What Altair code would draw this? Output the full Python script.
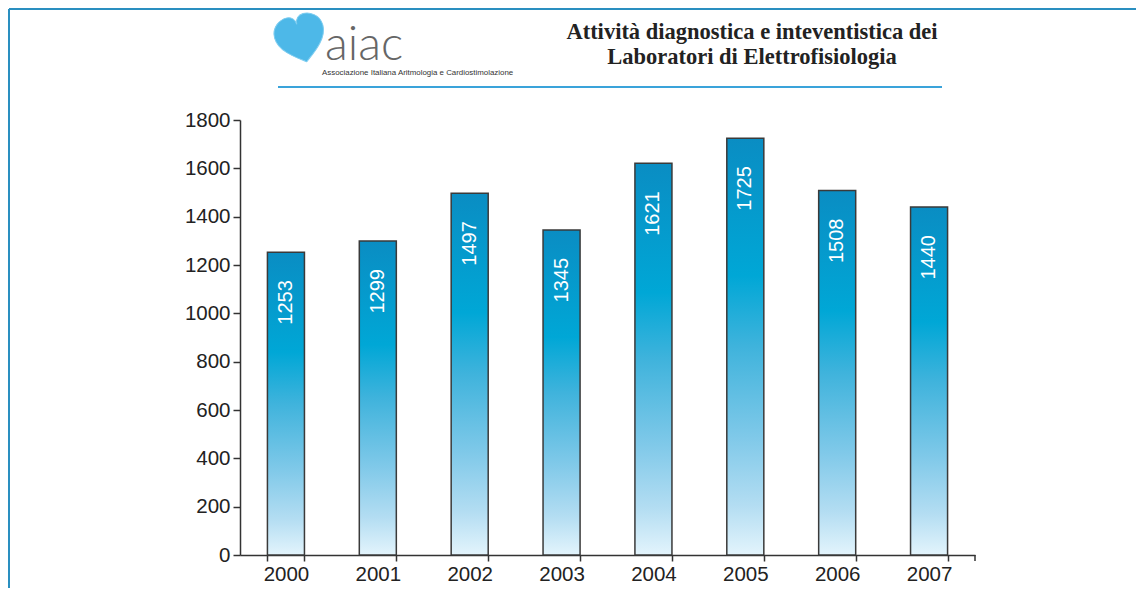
import altair as alt
import pandas as pd

years = ["2000", "2001", "2002", "2003", "2004", "2005", "2006", "2007"]
values = [1253, 1299, 1497, 1345, 1621, 1725, 1508, 1440]
title_lines = ["Attività diagnostica e inteventistica dei", "Laboratori di Elettrofisiologia"]
logo_word = "aiac"
logo_sub = "Associazione Italiana Aritmologia e Cardiostimolazione"
y_ticks = [0, 200, 400, 600, 800, 1000, 1200, 1400, 1600, 1800]

df = pd.DataFrame({"year": years, "value": values})

W, H = 735, 435
FONT = "Liberation Sans"

xscale = alt.Scale(domain=years, paddingInner=0.597, paddingOuter=0.2985)
yscale = alt.Scale(domain=[0, 1800], nice=False)

x_enc = alt.X("year:N", scale=xscale, title=None,
              axis=alt.Axis(labelAngle=0, labelFont=FONT, labelFontSize=20.5, labelColor="#222",
                            tickBand="extent", tickSize=6, tickColor="#333", tickWidth=1.5,
                            domainColor="#333", domainWidth=1.5, labelPadding=3))
y_enc = alt.Y("value:Q", scale=yscale, title=None,
              axis=alt.Axis(values=y_ticks, format="d", labelFont=FONT, labelFontSize=20.5,
                            labelColor="#222", tickSize=7, tickColor="#333", tickWidth=1.5,
                            domainColor="#333", domainWidth=1.5, grid=False, labelPadding=3))

grad = alt.Gradient(
    gradient="linear",
    stops=[
        alt.GradientStop(offset=0, color="#0a8dc3"),
        alt.GradientStop(offset=0.33, color="#00a7d6"),
        alt.GradientStop(offset=0.5, color="#3fb3dc"),
        alt.GradientStop(offset=0.72, color="#80c9e9"),
        alt.GradientStop(offset=0.88, color="#b3ddf2"),
        alt.GradientStop(offset=1, color="#e3f4fc"),
    ],
    x1=0, x2=0, y1=0, y2=1,
)

base = alt.Chart(df)

bars = base.mark_bar(fill=grad, stroke="#3a3a3a", strokeWidth=1.5).encode(x=x_enc, y=y_enc)

labels = base.mark_text(angle=270, align="right", baseline="middle", dx=-28,
                        font=FONT, fontSize=20, color="white").encode(
    x=x_enc, y=y_enc, text="value:Q")

end_tick = alt.Chart(pd.DataFrame({"a": [0]})).mark_rule(color="#333", strokeWidth=1.5).encode(
    x=alt.value(W), y=alt.value(H), y2=alt.value(H + 6))

title_layers = []
for i, line in enumerate(title_lines):
    title_layers.append(
        alt.Chart(pd.DataFrame({"t": [line]})).mark_text(
            font="Liberation Serif", fontWeight="bold", fontSize=22.5, color="#222",
            baseline="middle", align="center").encode(
            x=alt.value(512), y=alt.value(-88 + 25 * i), text="t:N")
    )

header_rule = alt.Chart(pd.DataFrame({"a": [0]})).mark_rule(color="#3aa3da", strokeWidth=2).encode(
    x=alt.value(38), x2=alt.value(702), y=alt.value(-33))

heart_path = ("M0,0.9 C-0.25,0.7 -1,0.25 -1,-0.35 C-1,-0.8 -0.6,-1 -0.35,-1 "
              "C-0.15,-1 0,-0.85 0,-0.65 C0,-0.85 0.15,-1 0.35,-1 C0.6,-1 1,-0.8 1,-0.35 "
              "C1,0.25 0.25,0.7 0,0.9 Z")
heart = alt.Chart(pd.DataFrame({"a": [0]})).mark_point(
    shape=heart_path, filled=True, fill="#4db8e8", stroke="#7fcdf0", strokeWidth=1,
    opacity=1, size=2500, angle=345).encode(x=alt.value(61), y=alt.value(-80))

logo = alt.Chart(pd.DataFrame({"t": [logo_word]})).mark_text(
    font="Lato", fontWeight=300, fontSize=47, color="#666", align="left",
    baseline="alphabetic").encode(x=alt.value(85), y=alt.value(-60), text="t:N")

logo2 = alt.Chart(pd.DataFrame({"t": [logo_sub]})).mark_text(
    font=FONT, fontSize=7.9, color="#333", align="left", baseline="middle").encode(
    x=alt.value(82), y=alt.value(-47), text="t:N")

border_top = alt.Chart(pd.DataFrame({"a": [0]})).mark_rule(color="#2a8fc0", strokeWidth=2).encode(
    x=alt.value(-231), x2=alt.value(W + 170), y=alt.value(-111))
border_left = alt.Chart(pd.DataFrame({"a": [0]})).mark_rule(color="#2a8fc0", strokeWidth=2).encode(
    x=alt.value(-231), y=alt.value(-111), y2=alt.value(H + 40))

chart = alt.layer(
    border_top, border_left, header_rule, heart, logo, logo2, *title_layers,
    bars, labels, end_tick
).properties(
    width=W, height=H,
    autosize=alt.AutoSizeParams(type="none"),
    padding={"left": 232, "top": 112, "right": 161, "bottom": 33},
).configure(background="white").configure_view(stroke=None)

chart.save("out.html", embed_options={"renderer": "svg", "actions": False})
